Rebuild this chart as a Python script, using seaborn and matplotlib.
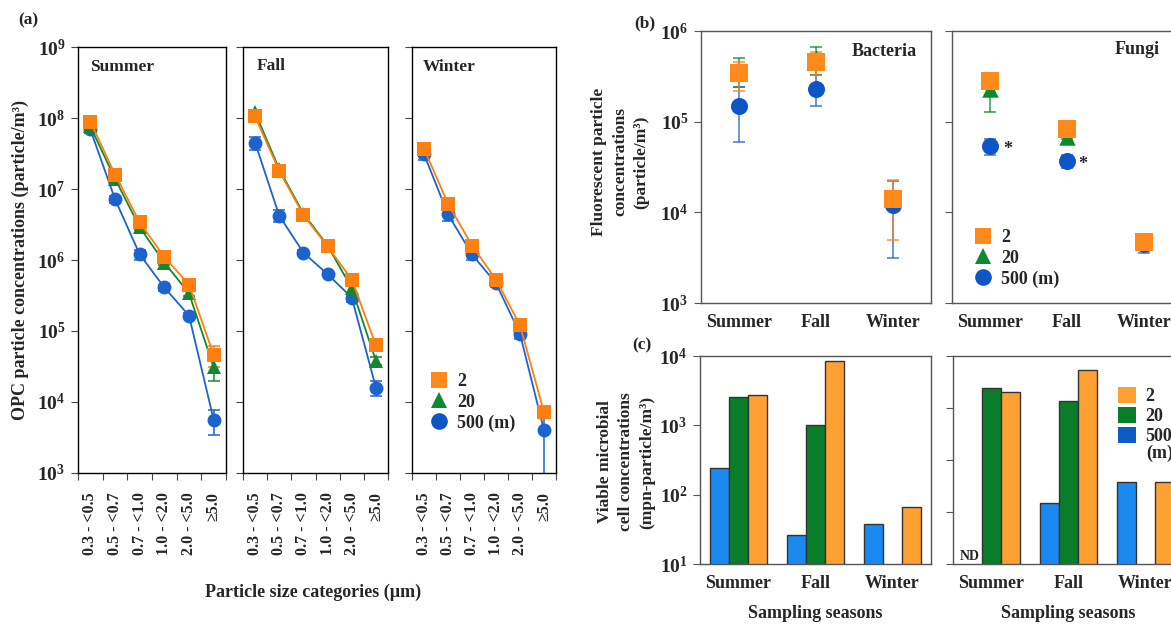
import numpy as np
import pandas as pd
import seaborn as sns
import matplotlib.pyplot as plt
from matplotlib.lines import Line2D
from matplotlib.patches import Patch
from matplotlib.ticker import FixedLocator, FuncFormatter, NullFormatter, NullLocator

# ---------------- data ----------------
size_labels = ['0.3 - <0.5', '0.5 - <0.7', '0.7 - <1.0', '1.0 - <2.0', '2.0 - <5.0', '≥5.0']
heights = ['500', '20', '2']          # drawing order (2 m on top)
legend_labels = ['2', '20', '500 (m)']

# (a) OPC particle concentrations
summer_2 = [8.9e7, 1.6e7, 3.4e6, 1.1e6, 4.5e5, 4.6e4]
summer_2_err = [6e6, 1.5e6, 3e5, 9e4, 4e4, 1.5e4]
summer_20 = [7.6e7, 1.4e7, 2.9e6, 9.2e5, 3.4e5, 3.1e4]
summer_20_err = [5e6, 1.2e6, 2.5e5, 8e4, 3e4, 1.1e4]
summer_500 = [6.9e7, 7.2e6, 1.2e6, 4.1e5, 1.65e5, 5.6e3]
summer_500_err = [8e6, 8e5, 2e5, 4e4, 1.5e4, 2.2e3]

fall_2 = [1.05e8, 1.8e7, 4.3e6, 1.55e6, 5.3e5, 6.3e4]
fall_2_err = [5e6, 1.5e6, 3e5, 8e4, 4e4, 4e3]
fall_20 = [1.2e8, 1.9e7, 4.5e6, 1.6e6, 4.0e5, 3.8e4]
fall_20_err = [6e6, 1.5e6, 3e5, 8e4, 8e4, 5e3]
fall_500 = [4.5e7, 4.2e6, 1.27e6, 6.3e5, 2.96e5, 1.6e4]
fall_500_err = [9e6, 8e5, 1e5, 4e4, 4e4, 4e3]

winter_2 = [3.7e7, 6.2e6, 1.6e6, 5.3e5, 1.2e5, 7.2e3]
winter_2_err = [2e6, 4e5, 1e5, 3e4, 8e3, 5e2]
winter_20 = [np.nan] * 6
winter_20_err = [np.nan] * 6
winter_500 = [3.1e7, 4.4e6, 1.2e6, 4.7e5, 9.1e4, 4.0e3]
winter_500_err = [5e6, 8e5, 2e5, 5e4, 1.5e4, 4.0e3]

# (b) fluorescent particle concentrations
seasons = ['Summer', 'Fall', 'Winter']
bact_2 = [3.4e5, 4.55e5, 1.4e4]
bact_2_lo = [2.2e5, 3.3e5, 5.0e3]
bact_2_hi = [4.6e5, 5.9e5, 2.3e4]
bact_20 = [3.6e5, 5.0e5, np.nan]
bact_20_lo = [2.4e5, 3.3e5, np.nan]
bact_20_hi = [5.0e5, 6.6e5, np.nan]
bact_500 = [1.5e5, 2.3e5, 1.22e4]
bact_500_lo = [6.0e4, 1.47e5, 3.1e3]
bact_500_hi = [2.4e5, 3.25e5, 2.2e4]

fungi_2 = [2.8e5, 8.3e4, 4.7e3]
fungi_2_lo = [2.4e5, 7.8e4, 4.4e3]
fungi_2_hi = [3.4e5, 8.8e4, 5.0e3]
fungi_20 = [2.3e5, 6.8e4, np.nan]
fungi_20_lo = [1.28e5, 6.4e4, np.nan]
fungi_20_hi = [2.9e5, 7.2e4, np.nan]
fungi_500 = [5.4e4, 3.7e4, 4.5e3]
fungi_500_lo = [4.3e4, 3.1e4, 3.6e3]
fungi_500_hi = [6.5e4, 4.3e4, 5.3e3]

# (c) viable microbial cell concentrations
viable_left_500 = [240, 25.8, 38]
viable_left_20 = [2600, 1000, np.nan]
viable_left_2 = [2700, 8400, 66]
viable_right_500 = [np.nan, 14.8, 38]
viable_right_20 = [2400, 1360, np.nan]
viable_right_2 = [2000, 5300, 38]

# ---------------- style ----------------
sns.set_theme(style='white')
plt.rcParams['font.family'] = ['Liberation Serif', 'DejaVu Serif']
plt.rcParams['font.weight'] = 'bold'
plt.rcParams['axes.labelweight'] = 'bold'
plt.rcParams['mathtext.fontset'] = 'custom'
plt.rcParams['mathtext.rm'] = 'Liberation Serif:bold'
plt.rcParams['mathtext.bf'] = 'Liberation Serif:bold'
plt.rcParams['mathtext.it'] = 'Liberation Serif:bold'

line_col = {'2': '#FF7F10', '20': '#13882E', '500': '#1C63D0'}
mark_col = {'2': '#FF8A1C', '20': '#0E8A2E', '500': '#0E55C8'}
markers = {'2': 's', '20': '^', '500': 'o'}
bar_col = {'2': '#FFA033', '20': '#0A7D2A', '500': '#1A8AF0'}
legend_bar_col = {'2': '#FFA033', '20': '#0A7D2A', '500': '#0B5CC5'}

W, H = 1171, 624
fig = plt.figure(figsize=(W / 100, H / 100), dpi=100)


def add_ax(l, t, r, b):
    return fig.add_axes([l / W, 1 - b / H, (r - l) / W, (b - t) / H])


def log_fmt(v, pos):
    return r'$\mathbf{10^{%d}}$' % int(round(np.log10(v)))


def style_spines(ax, color='black', lw=1.0):
    for s in ax.spines.values():
        s.set_visible(True)
        s.set_color(color)
        s.set_linewidth(lw)


# ---------------- panel (a) ----------------
a_data = {
    'Summer': ({'2': summer_2, '20': summer_20, '500': summer_500},
               {'2': summer_2_err, '20': summer_20_err, '500': summer_500_err}),
    'Fall': ({'2': fall_2, '20': fall_20, '500': fall_500},
             {'2': fall_2_err, '20': fall_20_err, '500': fall_500_err}),
    'Winter': ({'2': winter_2, '20': winter_20, '500': winter_500},
               {'2': winter_2_err, '20': winter_20_err, '500': winter_500_err}),
}
a_boxes = {'Summer': (78, 47, 226, 473), 'Fall': (243, 47, 388, 473), 'Winter': (412, 47, 556, 473)}
a_title_pos = {'Summer': (90, 67), 'Fall': (257, 66), 'Winter': (423, 67)}

x_pos = np.arange(len(size_labels))
for i, season in enumerate(['Summer', 'Fall', 'Winter']):
    ax = add_ax(*a_boxes[season])
    vals, errs = a_data[season]
    rows = []
    for h in heights:
        for xp, v in zip(x_pos, vals[h]):
            rows.append({'pos': xp, 'height': h, 'value': v})
    df = pd.DataFrame(rows).dropna()
    ax.set_yscale('log')
    for h in heights:
        v = np.array(vals[h], dtype=float)
        e = np.array(errs[h], dtype=float)
        if np.all(np.isnan(v)):
            continue
        ax.errorbar(x_pos, v, yerr=e, fmt='none', ecolor=line_col[h], elinewidth=1.1,
                    capsize=4, capthick=1.1, zorder=2)
    present = [h for h in heights if h in set(df['height'])]
    sns.lineplot(data=df, x='pos', y='value', hue='height', style='height',
                 hue_order=present, style_order=present,
                 palette={h: line_col[h] for h in present},
                 markers={h: markers[h] for h in present}, dashes=False,
                 markersize=10, markeredgewidth=0, linewidth=1.3,
                 legend=False, ax=ax, zorder=3)
    ax.set_ylim(1e3, 1e9)
    ax.set_xlim(-0.5, 5.5)
    ax.yaxis.set_major_locator(FixedLocator([10.0 ** k for k in range(3, 10)]))
    ax.yaxis.set_minor_locator(NullLocator())
    ax.yaxis.set_major_formatter(FuncFormatter(log_fmt))
    ax.tick_params(axis='y', which='major', direction='out', length=5, width=0.8,
                   color='#444444', labelsize=14, pad=4, left=True,
                   labelleft=(season == 'Summer'))
    ax.set_xticks(x_pos)
    ax.set_xticklabels(size_labels, rotation=90, fontsize=11.5, fontweight='bold')
    ax.xaxis.set_minor_locator(FixedLocator(np.arange(-0.5, 6.0, 1.0)))
    ax.tick_params(axis='x', which='major', length=0, pad=14)
    ax.tick_params(axis='x', which='minor', direction='out', length=5, width=0.8,
                   color='#444444', bottom=True)
    ax.set_xlabel('')
    ax.set_ylabel('')
    style_spines(ax)
    tx, ty = a_title_pos[season]
    fig.text(tx / W, 1 - ty / H, season, fontsize=12.5, fontweight='bold', va='center', ha='left')
    if season == 'Winter':
        handles = [Line2D([], [], linestyle='none', marker=markers[h], markersize=12,
                          markerfacecolor=mark_col[h], markeredgewidth=0)
                   for h in ['2', '20', '500']]
        ax.legend(handles, legend_labels, loc='upper left', frameon=False,
                  bbox_to_anchor=(421 / W, 1 - 364 / H), bbox_transform=fig.transFigure,
                  handlelength=1.0, handletextpad=0.5, labelspacing=0.2, borderpad=0,
                  prop={'size': 13, 'weight': 'bold'})

fig.text(18 / W, 1 - 20 / H, '(a)', fontsize=12.5, fontweight='bold', va='center', ha='left')
fig.text(20 / W, 1 - 260 / H, 'OPC particle concentrations (particle/m³)', rotation=90,
         fontsize=13, fontweight='bold', va='center', ha='center')
fig.text(313 / W, 1 - 592 / H, 'Particle size categories (µm)', fontsize=13,
         fontweight='bold', va='center', ha='center')

# ---------------- panel (b) ----------------
b_sets = [
    ('Bacteria', (701, 31, 931, 303),
     {'2': (bact_2, bact_2_lo, bact_2_hi), '20': (bact_20, bact_20_lo, bact_20_hi),
      '500': (bact_500, bact_500_lo, bact_500_hi)}),
    ('Fungi', (952, 31, 1182, 303),
     {'2': (fungi_2, fungi_2_lo, fungi_2_hi), '20': (fungi_20, fungi_20_lo, fungi_20_hi),
      '500': (fungi_500, fungi_500_lo, fungi_500_hi)}),
]
s_pos = np.arange(len(seasons))
for j, (name, box, dat) in enumerate(b_sets):
    ax = add_ax(*box)
    ax.set_yscale('log')
    rows = []
    for h in heights:
        v, lo, hi = [np.array(a, dtype=float) for a in dat[h]]
        ok = ~np.isnan(v)
        ax.errorbar(s_pos[ok], v[ok], yerr=[v[ok] - lo[ok], hi[ok] - v[ok]], fmt='none',
                    ecolor=line_col[h], elinewidth=1.1, capsize=4, capthick=1.1, zorder=2,
                    alpha=0.85)
        for xp, val in zip(s_pos, v):
            rows.append({'pos': xp, 'height': h, 'value': val})
    df = pd.DataFrame(rows).dropna()
    for h in heights:
        sub = df[df['height'] == h]
        sns.scatterplot(data=sub, x='pos', y='value', color=mark_col[h], marker=markers[h],
                        s=150 if h != '20' else 140, linewidth=0, legend=False, ax=ax, zorder=3)
    ax.set_ylim(1e3, 1e6)
    ax.set_xlim(-0.5, 2.5)
    ax.yaxis.set_major_locator(FixedLocator([1e3, 1e4, 1e5, 1e6]))
    ax.yaxis.set_minor_locator(NullLocator())
    ax.yaxis.set_major_formatter(FuncFormatter(log_fmt))
    ax.tick_params(axis='y', direction='out', length=5, width=0.8, color='#555555',
                   labelsize=14, pad=4, left=True, labelleft=(j == 0))
    ax.set_xticks(s_pos)
    ax.set_xticklabels(seasons, fontsize=13, fontweight='bold')
    ax.tick_params(axis='x', length=0, pad=8)
    ax.set_xlabel('')
    ax.set_ylabel('')
    style_spines(ax, color='#555555', lw=1.0)
    if name == 'Bacteria':
        fig.text(917 / W, 1 - 51 / H, name, fontsize=13, fontweight='bold', ha='right', va='center')
    else:
        fig.text(1160 / W, 1 - 50 / H, name, fontsize=13, fontweight='bold', ha='right', va='center')
        fig.text(1008 / W, 1 - 149 / H, '*', fontsize=13, fontweight='bold', ha='center', va='center')
        fig.text(1083 / W, 1 - 165 / H, '*', fontsize=13, fontweight='bold', ha='center', va='center')
        handles = [Line2D([], [], linestyle='none', marker=markers[h], markersize=12,
                          markerfacecolor=mark_col[h], markeredgewidth=0)
                   for h in ['2', '20', '500']]
        ax.legend(handles, legend_labels, loc='upper left', frameon=False,
                  bbox_to_anchor=(965 / W, 1 - 220 / H), bbox_transform=fig.transFigure,
                  handlelength=1.0, handletextpad=0.5, labelspacing=0.2, borderpad=0,
                  prop={'size': 13, 'weight': 'bold'})

fig.text(645 / W, 1 - 23 / H, '(b)', fontsize=12.5, fontweight='bold', va='center', ha='center')
fig.text(620 / W, 1 - 162 / H, 'Fluorescent particle\nconcentrations\n(particle/m³)',
         rotation=90, fontsize=12.5, fontweight='bold', va='center', ha='center',
         multialignment='center', linespacing=1.4)

# ---------------- panel (c) ----------------
c_sets = [
    ((700, 356, 931, 564), {'2': viable_left_2, '20': viable_left_20, '500': viable_left_500},
     (1e1, 1e4), True),
    ((953, 356, 1184, 564), {'2': viable_right_2, '20': viable_right_20, '500': viable_right_500},
     (1e0, 1e4), False),
]
for k, (box, dat, ylim, show_labels) in enumerate(c_sets):
    ax = add_ax(*box)
    rows = []
    for si, s in enumerate(seasons):
        for h in heights:
            rows.append({'season': s, 'height': h, 'value': dat[h][si]})
    df = pd.DataFrame(rows)
    sns.barplot(data=df, x='season', y='value', hue='height', hue_order=heights,
                order=seasons, palette=bar_col, width=0.75, errorbar=None,
                edgecolor='#333333', linewidth=1.0, legend=False, ax=ax, saturation=1)
    ax.set_yscale('log')
    ax.set_ylim(*ylim)
    ax.set_xlim(-0.5, 2.5)
    decades = [10.0 ** e for e in range(int(np.log10(ylim[0])), int(np.log10(ylim[1])) + 1)]
    ax.yaxis.set_major_locator(FixedLocator(decades))
    ax.yaxis.set_minor_locator(NullLocator())
    if show_labels:
        ax.yaxis.set_major_formatter(FuncFormatter(log_fmt))
    else:
        ax.yaxis.set_major_formatter(NullFormatter())
    ax.tick_params(axis='y', direction='out', length=5, width=0.8, color='#555555',
                   labelsize=14, pad=4, left=True)
    ax.tick_params(axis='x', length=0, pad=8, labelsize=13)
    for lab in ax.get_xticklabels():
        lab.set_fontweight('bold')
    ax.set_xlabel('')
    ax.set_ylabel('')
    style_spines(ax, color='#555555', lw=1.0)
    if not show_labels:
        fig.text(970 / W, 1 - 557 / H, 'ND', fontsize=10, fontweight='bold', ha='center', va='center')
        handles = [Patch(facecolor=legend_bar_col[h], edgecolor='none') for h in ['2', '20', '500']]
        ax.legend(handles, ['2', '20', '500'], loc='upper left', frameon=False,
                  bbox_to_anchor=(1109 / W, 1 - 378 / H), bbox_transform=fig.transFigure,
                  handlelength=1.0, handleheight=1.0, handletextpad=0.5, labelspacing=0.1,
                  borderpad=0, prop={'size': 13, 'weight': 'bold'})
        fig.text(1146 / W, 1 - 453 / H, '(m)', fontsize=13, fontweight='bold', ha='left', va='center')

fig.text(642 / W, 1 - 345 / H, '(c)', fontsize=12.5, fontweight='bold', va='center', ha='center')
fig.text(626 / W, 1 - 462 / H, 'Viable microbial\ncell concentrations\n(mpn-particle/m³)',
         rotation=90, fontsize=12.5, fontweight='bold', va='center', ha='center',
         multialignment='center', linespacing=1.4)
fig.text(815 / W, 1 - 613 / H, 'Sampling seasons', fontsize=13, fontweight='bold', ha='center', va='center')
fig.text(1068 / W, 1 - 613 / H, 'Sampling seasons', fontsize=13, fontweight='bold', ha='center', va='center')

fig.savefig('out.png', dpi=100)
